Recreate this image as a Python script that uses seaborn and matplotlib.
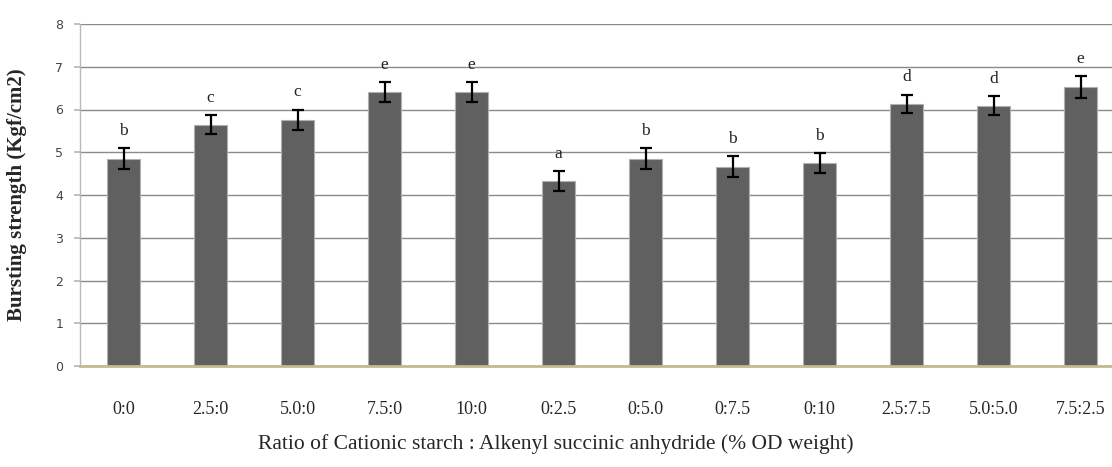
import matplotlib
matplotlib.use("Agg")
import matplotlib.pyplot as plt
import seaborn as sns
import pandas as pd

categories = ["0:0", "2.5:0", "5.0:0", "7.5:0", "10:0", "0:2.5", "0:5.0",
              "0:7.5", "0:10", "2.5:7.5", "5.0:5.0", "7.5:2.5"]
strength = [4.85, 5.64, 5.76, 6.41, 6.41, 4.33, 4.85, 4.66, 4.75, 6.13, 6.09, 6.53]
errors = [0.24, 0.22, 0.24, 0.23, 0.23, 0.23, 0.24, 0.25, 0.24, 0.22, 0.23, 0.25]
letters = ["b", "c", "c", "e", "e", "a", "b", "b", "b", "d", "d", "e"]
yticks = [0, 1, 2, 3, 4, 5, 6, 7, 8]

df = pd.DataFrame({"ratio": categories, "strength": strength})

sns.set_theme(style="white")
plt.rcParams["font.family"] = ["Liberation Serif", "DejaVu Serif"]

fig = plt.figure(figsize=(11.12, 4.67), dpi=100)
ax = fig.add_axes([80 / 1112, 1 - 366 / 467, 1032 / 1112, 342 / 467])

sns.barplot(data=df, x="ratio", y="strength", color="#606060", width=0.39,
            edgecolor="#b0b0b0", linewidth=0.8, saturation=1, ax=ax, zorder=3)
ax.errorbar(range(len(categories)), strength, yerr=errors, fmt="none",
            ecolor="black", elinewidth=1.6, capsize=4, capthick=1.6, zorder=4)

for i, (v, e, l) in enumerate(zip(strength, errors, letters)):
    ax.text(i, v + e + 0.4, l, ha="center", va="center", fontsize=12.5,
            color="#222222", zorder=5)

ax.set_ylim(0, 8)
ax.set_xlim(-0.5, -0.5 + 1032 / 87)
ax.set_yticks(yticks)
ax.set_yticklabels([str(t) for t in yticks], family="DejaVu Sans", fontsize=9,
                   color="#444444")
ax.yaxis.grid(True, color="#8a8a8a", linewidth=1.0, zorder=0)
ax.xaxis.grid(False)
ax.set_axisbelow(True)

for s in ["top", "right"]:
    ax.spines[s].set_visible(False)
ax.spines["left"].set_color("#b8b8b8")
ax.spines["left"].set_linewidth(1.0)
ax.spines["bottom"].set_color("#c4b990")
ax.spines["bottom"].set_linewidth(2.0)
ax.spines["bottom"].set_zorder(6)

ax.tick_params(axis="y", length=4, color="#b8b8b8", pad=8, left=True)
ax.tick_params(axis="x", length=0, pad=25, labelsize=13)

ax.set_xlabel("Ratio of Cationic starch : Alkenyl succinic anhydride (% OD weight)",
              fontsize=15.5)
ax.xaxis.set_label_coords((556 - 80) / 1032, -(434 - 366) / 342)
ax.set_ylabel("Bursting strength (Kgf/cm2)", fontsize=15, fontweight="bold")
ax.yaxis.set_label_coords((27 - 80) / 1032, 0.5)

fig.savefig("out.png", dpi=100)
